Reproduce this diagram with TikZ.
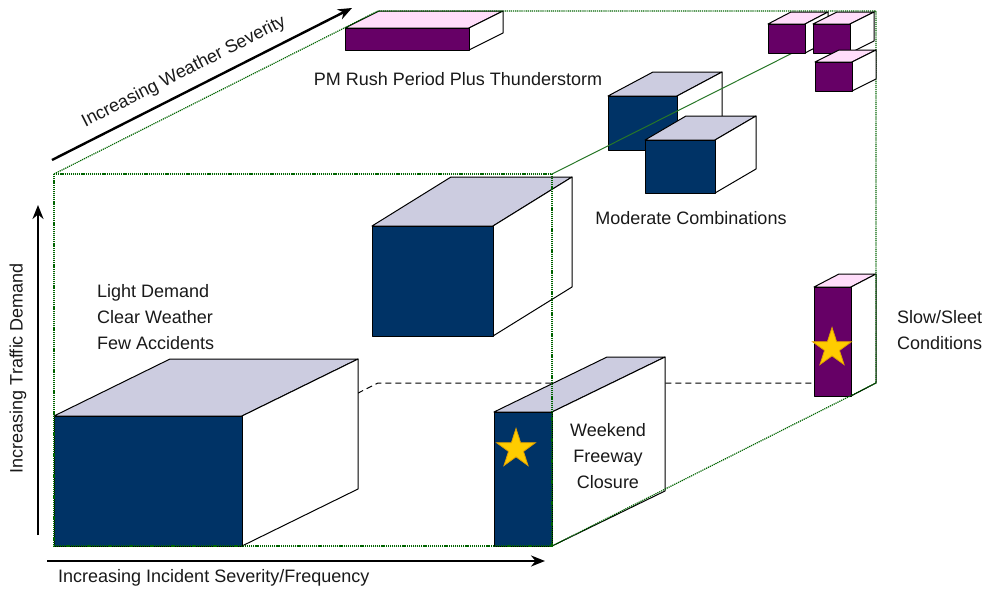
\documentclass[tikz,border=0pt]{standalone}
\usepackage{fontspec}
\setmainfont{Liberation Sans}
\usetikzlibrary{arrows.meta}
\definecolor{navy}{RGB}{0,51,102}
\definecolor{lav}{RGB}{204,204,224}
\definecolor{plum}{RGB}{102,0,102}
\definecolor{pinktop}{RGB}{255,221,250}
\definecolor{framegreen}{RGB}{0,100,0}
\definecolor{edgegreen}{RGB}{40,120,40}
\definecolor{stargold}{RGB}{255,204,0}
\definecolor{staredge}{RGB}{225,160,0}
\definecolor{txt}{RGB}{25,25,25}
\tikzset{
  boxedge/.style={draw=black, line width=1pt, line join=round},
  framedot/.style={draw=framegreen, line width=1.2pt, dash pattern=on 1.2pt off 0.9pt},
  hiddenedge/.style={draw=black, line width=1pt, dash pattern=on 6pt off 4pt},
  axisarrow/.style={draw=black, line width=2.4pt, -{Stealth[length=14pt,width=11pt]}},
  lbl/.style={inner sep=0pt, text=txt, font=\fontsize{18}{26}\selectfont},
  starsty/.style={fill=stargold, draw=staredge, line width=0.8pt, line join=miter}
}
% #1 x1, #2 y1, #3 x2, #4 y2, #5 dx, #6 dy (upward), #7 front colour, #8 top colour
\newcommand\cuboid[8]{%
  \filldraw[boxedge, fill=#8] (#1,#2) -- (#1+#5,#2-#6) -- (#3+#5,#2-#6) -- (#3,#2) -- cycle;
  \filldraw[boxedge, fill=white] (#3,#2) -- (#3+#5,#2-#6) -- (#3+#5,#4-#6) -- (#3,#4) -- cycle;
  \filldraw[boxedge, fill=#7] (#1,#2) rectangle (#3,#4);
}
% five-point star: centre x, centre y, outer radius (pt)
\newcommand\starat[3]{%
  \filldraw[starsty] (#1,#2) +(90:#3pt) -- +(126:0.382*#3pt) -- +(162:#3pt) -- +(198:0.382*#3pt)
    -- +(234:#3pt) -- +(270:0.382*#3pt) -- +(306:#3pt) -- +(342:0.382*#3pt)
    -- +(18:#3pt) -- +(54:0.382*#3pt) -- cycle;
}
\begin{document}
\begin{tikzpicture}[x=1pt, y=-1pt]
\useasboundingbox (0,0) rectangle (987,592);
% frame corners
\coordinate (FTL) at (54,174);
\coordinate (FTR) at (552,174);
\coordinate (FBL) at (54,546);
\coordinate (FBR) at (552,546);
\coordinate (BTL) at (378,11);
\coordinate (BTR) at (876,11);
\coordinate (BBL) at (378,383);
\coordinate (BBR) at (876,383);
% hidden edges
\draw[hiddenedge] (FBL) -- (BBL) -- (BBR);
% boxes
\cuboid{54}{416}{242}{546}{116}{57}{navy}{lav}
\cuboid{372}{226}{493}{336}{79}{49}{navy}{lav}
\cuboid{494}{412}{552}{546}{113}{55}{navy}{lav}
\cuboid{814}{287}{851}{396}{25}{13}{plum}{pinktop}
\cuboid{345}{28}{469}{50}{34}{17}{plum}{pinktop}
\cuboid{608}{96}{677}{150}{45}{24}{navy}{lav}
\cuboid{645}{140}{715}{193}{41}{24}{navy}{lav}
% frame
\draw[framedot] (FTL) -- (FTR) -- (FBR) -- (FBL) -- cycle;
\draw[framedot] (FTL) -- (BTL) -- (BTR) -- (BBR) -- (FBR);
\draw[draw=edgegreen, line width=1pt] (FTR) -- (BTR);
% small boxes top right
\cuboid{768}{24}{805}{53}{23}{12}{plum}{pinktop}
\cuboid{813}{24}{850}{53}{24}{12}{plum}{pinktop}
\cuboid{815}{62}{852}{91}{24}{12}{plum}{pinktop}
% stars
\starat{516}{449}{20.5}
\starat{832}{348}{20.5}
% axes
\coordinate (WA) at (52,160);
\coordinate (WB) at (352,8);
\coordinate (TA) at (38,535);
\coordinate (TB) at (38,205);
\coordinate (IA) at (47,561);
\coordinate (IB) at (545,561);
\draw[axisarrow] (WA) -- (WB);
\draw[axisarrow] (TA) -- (TB);
\draw[axisarrow] (IA) -- (IB);
% labels
\node[lbl, rotate=26.9] (weather) at (184,72) {Increasing Weather Severity};
\node[lbl, rotate=90] (traffic) at (18,368) {Increasing Traffic Demand};
\node[lbl, anchor=west] (incident) at (58,578) {Increasing Incident Severity/Frequency};
\node[lbl] (pmrush) at (458,79) {PM Rush Period Plus Thunderstorm};
\node[lbl] (moderate) at (691,218) {Moderate Combinations};
\node[lbl, align=left, anchor=west] (light) at (97,317) {Light Demand\\Clear Weather\\Few Accidents};
\node[lbl, align=center] (weekend) at (608,456) {Weekend\\Freeway\\Closure};
\node[lbl, align=left, anchor=west] (sleet) at (897,330) {Slow/Sleet\\Conditions};
\end{tikzpicture}
\end{document}
